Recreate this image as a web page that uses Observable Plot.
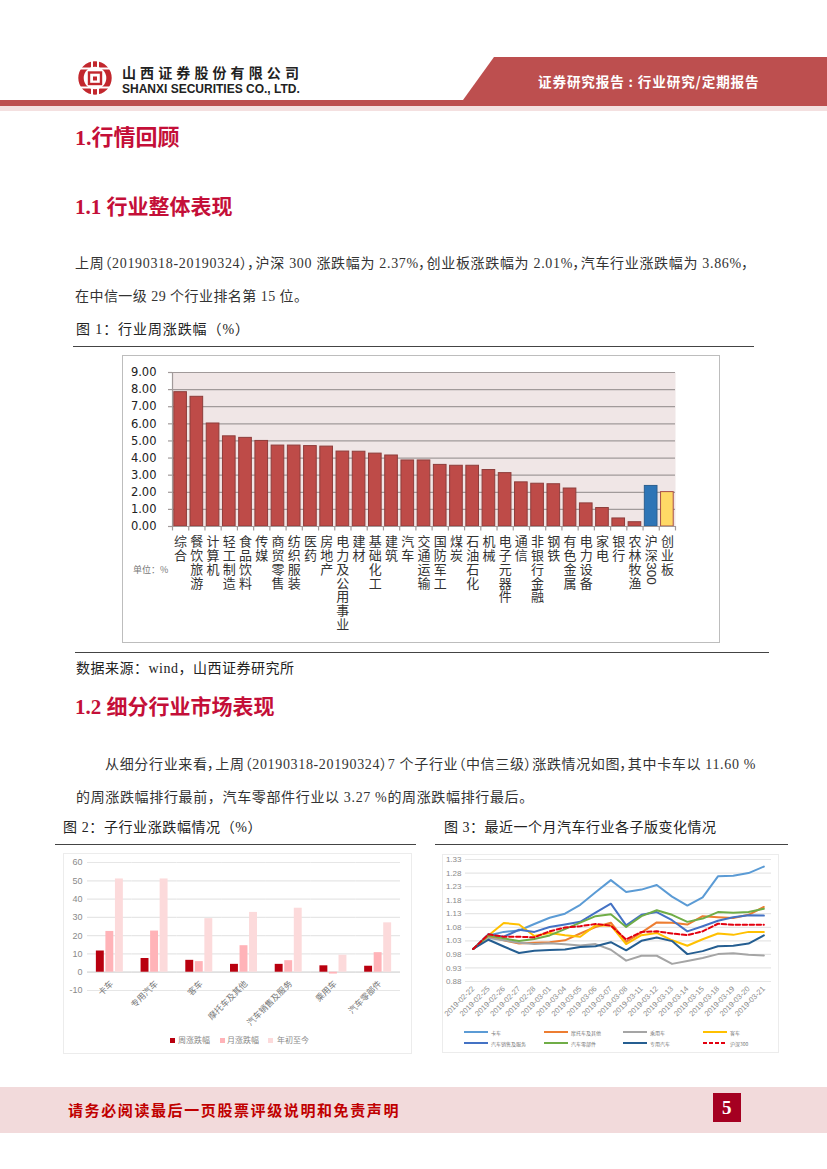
<!DOCTYPE html>
<html lang="zh">
<head>
<meta charset="utf-8">
<script src="https://cdn.jsdelivr.net/npm/d3@7"></script>
<script src="https://cdn.jsdelivr.net/npm/@observablehq/plot@0.6"></script>
<style>
html,body{margin:0;padding:0;background:#fff;}
body{position:relative;width:827px;height:1169px;overflow:hidden;font-family:"Liberation Serif","Noto Sans CJK SC",serif;color:#222;}
.a{position:absolute;white-space:nowrap;line-height:1;}
.box{position:absolute;box-sizing:border-box;background:#fff;}
.box svg{position:absolute;left:0;top:0;display:block;background:transparent;}
.h{color:#c40f38;font-weight:700;font-family:"Liberation Serif","Noto Sans CJK SC",serif;}
.p{font-size:14px;color:#333;}
.cap{font-size:14px;color:#222;letter-spacing:.5px;}
.rule{position:absolute;height:1.3px;background:#444;}
.lg{position:absolute;line-height:1;white-space:nowrap;font-family:"Noto Sans CJK SC",sans-serif;}
</style>
</head>
<body>
<script>
// ---------- Chart 1: weekly change by industry ----------
const industries = ["综合","餐饮旅游","计算机","轻工制造","食品饮料","传媒","商贸零售","纺织服装","医药","房地产","电力及公用事业","建材","基础化工","建筑","汽车","交通运输","国防军工","煤炭","石油石化","机械","电子元器件","通信","非银行金融","钢铁","有色金属","电力设备","家电","银行","农林牧渔","沪深300","创业板"];
const weeklyChange = [7.85,7.58,6.02,5.27,5.18,5.0,4.73,4.73,4.7,4.67,4.38,4.37,4.26,4.15,3.86,3.86,3.6,3.55,3.55,3.3,3.12,2.58,2.5,2.47,2.22,1.35,1.08,0.47,0.25,2.37,2.01];
const weeklyTicks = [0,1,2,3,4,5,6,7,8,9];

// ---------- Chart 2: sub-industry change ----------
const subIndustries = ["卡车","专用汽车","客车","摩托车及其他","汽车销售及服务","乘用车","汽车零部件"];
const periods = ["周涨跌幅","月涨跌幅","年初至今"];
const subWeek = [11.6,7.5,6.5,4.3,4.3,3.5,3.27];
const subMonth = [22.3,22.5,5.8,14.5,6.3,-1,10.7];
const subYear = [51,51,29.3,32.7,35,9.3,27];
const subTicks = [-10,0,10,20,30,40,50,60];

// ---------- Chart 3: one-month index by sub-sector ----------
const dates = ["2019-02-22","2019-02-25","2019-02-26","2019-02-27","2019-02-28","2019-03-01","2019-03-04","2019-03-05","2019-03-06","2019-03-07","2019-03-08","2019-03-11","2019-03-12","2019-03-13","2019-03-14","2019-03-15","2019-03-18","2019-03-19","2019-03-20","2019-03-21"];
const truck = [1.0,1.05,1.063,1.068,1.092,1.115,1.13,1.163,1.209,1.254,1.21,1.219,1.236,1.193,1.16,1.19,1.268,1.27,1.28,1.304];
const motorcycle = [1.0,1.045,1.032,1.02,1.023,1.025,1.032,1.057,1.081,1.097,1.026,1.06,1.098,1.097,1.09,1.121,1.117,1.114,1.126,1.155];
const passengerCar = [1.0,1.04,1.032,1.023,1.018,1.021,1.017,1.013,1.018,0.997,0.957,0.975,0.975,0.945,0.956,0.967,0.981,0.984,0.979,0.976];
const bus = [1.0,1.05,1.096,1.09,1.048,1.059,1.051,1.045,1.087,1.087,1.018,1.051,1.059,1.032,1.012,1.036,1.057,1.052,1.063,1.063];
const autoSales = [1.0,1.054,1.045,1.071,1.063,1.081,1.09,1.1,1.134,1.167,1.087,1.126,1.136,1.106,1.065,1.084,1.104,1.117,1.124,1.123];
const autoParts = [1.0,1.05,1.039,1.029,1.037,1.05,1.073,1.097,1.121,1.128,1.081,1.121,1.143,1.126,1.1,1.112,1.136,1.134,1.136,1.148];
const specialVehicle = [1.0,1.034,1.009,0.985,0.993,0.996,0.998,1.007,1.01,1.025,0.995,1.03,1.042,1.029,0.981,0.992,1.01,1.012,1.02,1.05];
const csi300 = [1.0,1.054,1.045,1.045,1.043,1.065,1.079,1.084,1.092,1.086,1.035,1.063,1.065,1.057,1.051,1.065,1.093,1.089,1.089,1.089];
const seriesNames = ["卡车","摩托车及其他","乘用车","客车","汽车销售及服务","汽车零部件","专用汽车","沪深300"];
const seriesValues = [truck,motorcycle,passengerCar,bus,autoSales,autoParts,specialVehicle,csi300];
const indexTicks = [0.88,0.93,0.98,1.03,1.08,1.13,1.18,1.23,1.28,1.33];

// ---------- page text ----------
const CJK = '"Noto Sans CJK SC",sans-serif';
const seriesColors = ["#5b9bd5","#ed7d31","#a5a5a5","#ffc000","#4472c4","#70ad47","#255e91","#e3000f"];
const periodColors = ["#b9000f","#ffb3b8","#fcdadb"];

function add(html, css, cls){
  const d=document.createElement("div");
  d.className=cls||"a"; d.style.cssText=css; d.innerHTML=html;
  document.body.appendChild(d); return d;
}
// header
add(`<svg width="827" height="50" style="display:block"><polygon points="494,1 827,1 827,44 463,44" fill="#bd4f4f"/></svg>`,"left:0;top:56px;position:absolute");
add("","left:0;top:100px;width:827px;height:6px;background:#bd4f4f;position:absolute");
add("","left:0;top:106px;width:827px;height:5px;background:#f4e0e0;position:absolute");
add(`<svg width="36" height="36" viewBox="0 0 36 36"><circle cx="18" cy="18" r="14" fill="none" stroke="#c2272d" stroke-width="5.4"/>
<rect x="11" y="11" width="14" height="14" fill="#fff"/>
<rect x="12" y="12.5" width="12" height="11.5" fill="none" stroke="#c2272d" stroke-width="2.4"/><rect x="16" y="16.5" width="4" height="4" fill="#c2272d"/>
<rect x="0" y="7.5" width="36" height="2" fill="#fff"/><rect x="0" y="26.5" width="36" height="2" fill="#fff"/><rect x="14" y="0" width="2" height="9" fill="#fff"/><rect x="20" y="0" width="2" height="9" fill="#fff"/><rect x="14" y="27" width="2" height="9" fill="#fff"/><rect x="20" y="27" width="2" height="9" fill="#fff"/></svg>`,"left:77px;top:60px;position:absolute");
add("山西证券股份有限公司",`left:122px;top:65px;font:700 14px/1 ${CJK};letter-spacing:4.1px;color:#222`);
add("SHANXI SECURITIES CO., LTD.",`left:122px;top:83px;font:700 12px/1 "Liberation Sans",sans-serif;color:#222`);
add("证券研究报告 : 行业研究/定期报告",`left:538px;top:75px;font:700 13.6px/1 ${CJK};color:#fff;letter-spacing:.85px`);

// headings and paragraphs
add("1.行情回顾","left:75px;top:127px;font-size:22px","a h");
add("1.1 行业整体表现","left:75px;top:197px;font-size:21px","a h");
add("上周（20190318-20190324），沪深 300 涨跌幅为 2.37%，创业板涨跌幅为 2.01%，汽车行业涨跌幅为 3.86%，",'left:75px;top:257px;font-size:14px;letter-spacing:.68px;font-feature-settings:"palt"',"a p");
add("在中信一级 29 个行业排名第 15 位。","left:75px;top:290px;font-size:14px;letter-spacing:.45px","a p");
add("图 1：行业周涨跌幅（%）","left:76px;top:323px;letter-spacing:.9px","a cap");
add("","left:73px;top:346px;width:681px","rule");
add("","left:75px;top:652px;width:694px","rule");
add("数据来源：wind，山西证券研究所","left:76px;top:662px","a cap");
add("1.2 细分行业市场表现","left:75px;top:697px;font-size:21px","a h");
add("从细分行业来看，上周（20190318-20190324）7 个子行业（中信三级）涨跌情况如图，其中卡车以 11.60 %",'left:105px;top:758px;font-size:14px;letter-spacing:.66px;font-feature-settings:"palt"',"a p");
add("的周涨跌幅排行最前，汽车零部件行业以 3.27 %的周涨跌幅排行最后。","left:76px;top:791px;font-size:14px;letter-spacing:.65px","a p");
add("图 2：子行业涨跌幅情况（%）","left:63px;top:821px;letter-spacing:.6px","a cap");
add("图 3：最近一个月汽车行业各子版变化情况","left:444px;top:821px","a cap");
add("","left:55px;top:844px;width:361px","rule");
add("","left:435px;top:844px;width:353px","rule");

// footer
add("","left:0;top:1087px;width:827px;height:46px;background:#f2dadb;position:absolute");
add("请务必阅读最后一页股票评级说明和免责声明",`left:68px;top:1102px;font:700 15px/1 ${CJK};letter-spacing:1.6px;color:#c00000`);
add("","left:713px;top:1093px;width:28px;height:29px;background:#a50021;position:absolute");
add("5",`left:722px;top:1098px;font:700 19px/1 "Liberation Serif",serif;color:#fff`);

// ---------- Chart 1 ----------
const c1 = industries.map((name,i)=>({name,value:weeklyChange[i]}));
const barFill = d => d.name==="沪深300" ? "#2e75b6" : d.name==="创业板" ? "#ffd966" : "#be4b48";
const barStroke = d => d.name==="沪深300" ? "#2c5f8f" : d.name==="创业板" ? "#a8504a" : "#8e3d3b";
const plot1 = Plot.plot({
  width:596,height:285,marginLeft:49,marginRight:44,marginTop:16,marginBottom:115,
  style:{fontFamily:CJK,background:"transparent",overflow:"visible"},
  x:{domain:industries,paddingInner:0.22,paddingOuter:0.11,round:false,label:null},
  y:{domain:[0,9],ticks:weeklyTicks,label:null},
  marks:[
    Plot.frame({fill:"#f0e6e6",stroke:null}),
    Plot.gridY(weeklyTicks,{stroke:"#a19a9a",strokeOpacity:1,strokeWidth:1.2}),
    Plot.barY(c1,{x:"name",y:"value",fill:barFill,stroke:barStroke,strokeWidth:1}),
    Plot.ruleX(industries,{x:d=>d,y1:0,y2:-0.26,dx:-8.1,stroke:"#a19a9a",strokeWidth:1.2}),
    Plot.ruleX(industries.slice(-1),{x:d=>d,y1:0,y2:-0.26,dx:8.1,stroke:"#a19a9a",strokeWidth:1.2}),
    Plot.ruleY([0],{stroke:"#a19a9a",strokeWidth:1.2}),
    Plot.ruleX(industries.slice(0,1),{x:d=>d,y1:0,y2:9,dx:-8.1,stroke:"#a19a9a",strokeWidth:1.2}),
    Plot.axisY({ticks:weeklyTicks,tickFormat:d3.format(".2f"),tickSize:4,tickPadding:12,fontSize:11.5,stroke:"#a19a9a",strokeWidth:1.2,fill:"#222",fontFamily:"DejaVu Sans",label:null}),
    Plot.axisX({tickSize:0,tickPadding:10,fontSize:13,lineHeight:1.06,fill:"#333",label:null,
      tickFormat:d=>d==="沪深300"?"沪\n深":[...d].join("\n")}),
    Plot.text(["沪深300"],{x:d=>d,y:0,dy:47,rotate:90,text:()=>"300",fontSize:13.5,fill:"#333",fontFamily:"Liberation Sans"})
  ]
});
const b1 = add("","left:122px;top:355px;width:598px;height:288px;border:1.5px solid #bdbdbd","box");
b1.appendChild(plot1);
add("单位：%",`left:133px;top:565px;font:9px/1 ${CJK};color:#777`);

// ---------- Chart 2 ----------
const c2 = subIndustries.flatMap((name,i)=>[
  {name,period:periods[0],value:subWeek[i]},
  {name,period:periods[1],value:subMonth[i]},
  {name,period:periods[2],value:subYear[i]}
]);
const plot2 = Plot.plot({
  width:346,height:198,marginLeft:23,marginRight:10,marginTop:8,marginBottom:62,
  style:{fontFamily:CJK,background:"transparent",overflow:"visible"},
  fx:{domain:subIndustries,padding:0,round:false,label:null,axis:null},
  x:{domain:periods,paddingInner:0.17,paddingOuter:0.93,round:false,axis:null,label:null},
  y:{domain:[-10,60],ticks:subTicks,label:null},
  color:{domain:periods,range:periodColors},
  marks:[
    Plot.ruleY(subTicks,{stroke:"#e6e6e6",strokeWidth:1.2}),
    Plot.ruleY([0],{stroke:"#dcdcdc",strokeWidth:1.3}),
    Plot.barY(c2,{fx:"name",x:"period",y:"value",fill:"period"}),
    Plot.axisY({ticks:subTicks,tickFormat:d=>String(d),tickSize:0,tickPadding:5,fontSize:9,fill:"#8a8a8a",fontFamily:"Liberation Sans",label:null}),
    Plot.text(subIndustries,{fx:d=>d,x:()=>periods[1],y:0,text:d=>d,rotate:-45,textAnchor:"end",dx:2,dy:10,fontSize:8.5,fill:"#777"})
  ]
});
const b2 = add("","left:63px;top:853px;width:349px;height:201px;border:1.5px solid #ececec","box");
b2.appendChild(plot2);
[[170,178],[220,227],[268,277]].forEach(([sx,tx],i)=>{
  add("",`left:${sx}px;top:1038px;width:5px;height:5px;background:${periodColors[i]}`,"lg");
  add(periods[i],`left:${tx}px;top:1036px;font-size:8px;color:#8a8a8a`,"lg");
});

// ---------- Chart 3 ----------
const c3 = seriesNames.flatMap((name,s)=>dates.map((date,i)=>({name,date,value:seriesValues[s][i]})));
const plot3 = Plot.plot({
  width:334,height:196,marginLeft:22,marginRight:6,marginTop:4,marginBottom:70,
  style:{fontFamily:"Liberation Sans",background:"transparent",overflow:"visible"},
  x:{type:"point",domain:dates,padding:0.5,round:false,label:null},
  y:{domain:[0.88,1.33],ticks:indexTicks,label:null},
  color:{domain:seriesNames,range:seriesColors},
  marks:[
    Plot.ruleY(indexTicks,{stroke:"#e6e6e6",strokeWidth:1.2}),
    Plot.lineY(c3.filter(d=>d.name!=="沪深300"),{x:"date",y:"value",stroke:"name",strokeWidth:2}),
    Plot.lineY(c3.filter(d=>d.name==="沪深300"),{x:"date",y:"value",stroke:"name",strokeWidth:2,strokeDasharray:"4.5 2.5"}),
    Plot.axisY({ticks:indexTicks,tickFormat:d3.format(".2f"),tickSize:0,tickPadding:4,fontSize:8,fill:"#8a8a8a",label:null}),
    Plot.axisX({tickSize:0,tickPadding:6,tickRotate:-45,fontSize:7.6,fill:"#8a8a8a",label:null})
  ]
});
const b3 = add("","left:442px;top:854px;width:337px;height:199px;border:1.5px solid #ececec","box");
b3.appendChild(plot3);
const legX=[464,544,623,703], legY=[1031,1042];
seriesNames.forEach((n,i)=>{
  const col=i%4,row=Math.floor(i/4);
  const dash=n==="沪深300"?`background:repeating-linear-gradient(90deg,${seriesColors[i]} 0 4px,transparent 4px 6px)`:`background:${seriesColors[i]}`;
  add("",`left:${legX[col]}px;top:${legY[row]}px;width:24px;height:2px;${dash}`,"lg");
  add(n,`left:${legX[col]+27}px;top:${legY[row]-1.5}px;font-size:5px;color:#777`,"lg");
});
</script>
</body>
</html>
